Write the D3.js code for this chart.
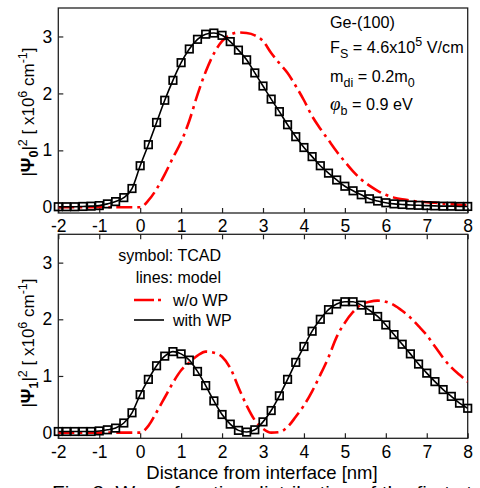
<!DOCTYPE html>
<html><head><meta charset="utf-8">
<script src="https://cdn.jsdelivr.net/npm/d3@7"></script>
<style>
html,body{margin:0;padding:0;background:#fff;}
svg{display:block;}
text{font-family:"Liberation Sans",Arial,sans-serif;fill:#000;}
</style></head>
<body>
<svg id="chart" width="480" height="488"></svg>
<script>
const xGrid = [-2,-1.8,-1.6,-1.4,-1.2,-1.0,-0.8,-0.6,-0.4,-0.2,0,0.2,0.4,0.6,0.8,1.0,1.2,1.4,1.6,1.8,2.0,2.2,2.4,2.6,2.8,3.0,3.2,3.4,3.6,3.8,4.0,4.2,4.4,4.6,4.8,5.0,5.2,5.4,5.6,5.8,6.0,6.2,6.4,6.6,6.8,7.0,7.2,7.4,7.6,7.8,8.0];

// |Psi0|^2 : TCAD symbols / model with WP
const psi0WithWP = [0.01,0.01,0.01,0.015,0.02,0.03,0.06,0.10,0.17,0.33,0.73,1.10,1.49,1.88,2.23,2.54,2.78,2.95,3.04,3.06,3.02,2.91,2.76,2.59,2.36,2.13,1.90,1.68,1.45,1.24,1.05,0.89,0.73,0.60,0.48,0.37,0.29,0.22,0.15,0.11,0.08,0.06,0.05,0.04,0.035,0.03,0.025,0.02,0.02,0.015,0.015];
// |Psi0|^2 : model w/o WP
const psi0NoWP = [0,0,0,0,0,0,0,0,0,0,0,0.12,0.32,0.58,0.87,1.15,1.52,1.98,2.38,2.70,2.92,3.03,3.07,3.06,3.02,2.92,2.71,2.53,2.36,2.13,1.88,1.60,1.38,1.18,0.98,0.80,0.63,0.49,0.38,0.29,0.22,0.17,0.14,0.12,0.10,0.09,0.08,0.065,0.055,0.045,0.04];

// |Psi1|^2 : TCAD symbols / model with WP
const psi1WithWP = [0.02,0.02,0.02,0.02,0.02,0.03,0.05,0.08,0.17,0.35,0.67,0.94,1.18,1.35,1.43,1.39,1.28,1.08,0.83,0.56,0.32,0.15,0.04,0.01,0.05,0.19,0.39,0.65,0.94,1.24,1.52,1.79,2.00,2.17,2.27,2.31,2.31,2.25,2.16,2.05,1.90,1.73,1.56,1.39,1.21,1.05,0.90,0.76,0.64,0.52,0.43];
// |Psi1|^2 : model w/o WP
const psi1NoWP = [0,0,0,0,0,0,0,0,0,0,0,0.12,0.36,0.62,0.88,1.10,1.24,1.36,1.43,1.41,1.34,1.14,0.80,0.48,0.22,0.07,0.00,0.01,0.10,0.28,0.48,0.73,1.02,1.33,1.69,1.94,2.13,2.26,2.31,2.33,2.31,2.25,2.15,2.03,1.88,1.72,1.52,1.32,1.15,1.02,0.90];

const xTicks = [-2,-1,0,1,2,3,4,5,6,7,8];
const yTicks = [0,1,2,3];
const legendLabels = ["symbol: TCAD","lines: model","w/o WP","with WP"];
const xTitle = "Distance from interface [nm]";
const caption = "Fig. 3. Wave function distribution of the first st";

const svg = d3.select("#chart");
const x = d3.scaleLinear().domain([-2,8]).range([58.3,467.7]);
const panels = [
  {top:8, bottom:213, withWP:psi0WithWP, noWP:psi0NoWP, sub:"0", labelY:112},
  {top:234.3, bottom:438.3, withWP:psi1WithWP, noWP:psi1NoWP, sub:"1", labelY:343}
];
const RED = "#ff0000";
const fmt = d => String(d);

panels.forEach((p,i) => {
  const y = d3.scaleLinear().domain([-0.1,3.5]).range([p.bottom,p.top]);
  const g = svg.append("g");
  const clipId = "clip"+i;
  svg.append("clipPath").attr("id",clipId).append("rect")
    .attr("x",x.range()[0]).attr("y",p.top).attr("width",x.range()[1]-x.range()[0]).attr("height",p.bottom-p.top);

  g.append("rect").attr("x",x.range()[0]).attr("y",p.top)
    .attr("width",x.range()[1]-x.range()[0]).attr("height",p.bottom-p.top)
    .attr("fill","none").attr("stroke","#222").attr("stroke-width",1.3);

  const xb = g.append("g").attr("transform",`translate(0,${p.bottom})`)
    .call(d3.axisBottom(x).tickValues(xTicks).tickSizeInner(-5).tickSizeOuter(0).tickPadding(7).tickFormat(fmt));
  xb.select(".domain").remove();
  xb.selectAll("line").attr("stroke","#222").attr("stroke-width",1.2);
  xb.selectAll("text").attr("font-size",17.5).attr("font-family","Liberation Sans, Arial, sans-serif");

  if (i===1) {
    const xt = g.append("g").attr("transform",`translate(0,${p.top})`)
      .call(d3.axisTop(x).tickValues(xTicks).tickSizeInner(-5).tickSizeOuter(0).tickFormat(""));
    xt.select(".domain").remove();
    xt.selectAll("line").attr("stroke","#222").attr("stroke-width",1.2);
  }

  const yl = g.append("g").attr("transform",`translate(${x.range()[0]},0)`)
    .call(d3.axisLeft(y).tickValues(yTicks).tickSizeInner(-5).tickSizeOuter(0).tickPadding(6).tickFormat(fmt));
  yl.select(".domain").remove();
  yl.selectAll("line").attr("stroke","#222").attr("stroke-width",1.2);
  yl.selectAll("text").attr("font-size",17.5).attr("font-family","Liberation Sans, Arial, sans-serif");

  const plot = g.append("g").attr("clip-path",`url(#${clipId})`);
  const line = d3.line().x((d,k)=>x(xGrid[k])).y(d=>y(d)).curve(d3.curveMonotoneX);

  plot.append("path").datum(p.noWP).attr("d",line)
    .attr("fill","none").attr("stroke",RED).attr("stroke-width",2.6)
    .attr("stroke-dasharray","16,5,3,5");

  plot.append("path").datum(p.withWP).attr("d",line)
    .attr("fill","none").attr("stroke","#000").attr("stroke-width",1.6);

  const s = 7.5;
  g.append("g").selectAll("rect").data(p.withWP).join("rect")
    .attr("x",(d,k)=>x(xGrid[k])-s/2).attr("y",d=>y(d)-s/2)
    .attr("width",s).attr("height",s)
    .attr("fill","none").attr("stroke","#000").attr("stroke-width",1.7);

  const t = svg.append("text").attr("transform",`translate(34,${p.labelY}) rotate(-90)`)
    .attr("text-anchor","middle").attr("font-size",17);
  t.append("tspan").text("|");
  t.append("tspan").attr("font-weight","bold").attr("font-size",18).text("Ψ");
  t.append("tspan").attr("font-weight","bold").attr("font-size",12.5).attr("dy",4).text(p.sub);
  t.append("tspan").attr("dy",-4).text("|");
  t.append("tspan").attr("font-size",12.5).attr("dy",-7).text("2");
  t.append("tspan").attr("dy",7).text(" [ x10");
  t.append("tspan").attr("font-size",12.5).attr("dy",-7).text("6");
  t.append("tspan").attr("dy",7).text(" cm");
  t.append("tspan").attr("font-size",12.5).attr("dy",-7).text("-1");
  t.append("tspan").attr("dy",7).text("]");
});

const ann = svg.append("g").attr("font-size",16.2);
ann.append("text").attr("x",330).attr("y",28).text("Ge-(100)");
const f = ann.append("text").attr("x",330).attr("y",53);
f.append("tspan").text("F");
f.append("tspan").attr("font-size",12.5).attr("dy",5).text("S");
f.append("tspan").attr("dy",-5).text(" = 4.6x10");
f.append("tspan").attr("font-size",12.5).attr("dy",-7).text("5");
f.append("tspan").attr("dy",7).text(" V/cm");
const m = ann.append("text").attr("x",330).attr("y",82);
m.append("tspan").text("m");
m.append("tspan").attr("font-size",12.5).attr("dy",5).text("di");
m.append("tspan").attr("dy",-5).text(" = 0.2m");
m.append("tspan").attr("font-size",12.5).attr("dy",5).text("0");
const ph = ann.append("text").attr("x",330).attr("y",110);
ph.append("tspan").attr("font-style","italic").attr("font-family","Liberation Serif, serif").attr("font-size",19).text("φ");
ph.append("tspan").attr("font-size",12.5).attr("dy",5).text("b");
ph.append("tspan").attr("dy",-5).text(" = 0.9 eV");

const lg = svg.append("g").attr("font-size",16);
lg.append("text").attr("x",221).attr("y",261).attr("text-anchor","end").text(legendLabels[0]);
lg.append("text").attr("x",221).attr("y",283).attr("text-anchor","end").text(legendLabels[1]);
lg.append("line").attr("x1",134).attr("x2",168).attr("y1",300).attr("y2",300)
  .attr("stroke",RED).attr("stroke-width",2.6).attr("stroke-dasharray","20,4,3,20");
lg.append("text").attr("x",173).attr("y",305.5).text(legendLabels[2]);
lg.append("line").attr("x1",134).attr("x2",164).attr("y1",320).attr("y2",320)
  .attr("stroke","#000").attr("stroke-width",1.6);
lg.append("text").attr("x",173).attr("y",325.5).text(legendLabels[3]);

svg.append("text").attr("x",262).attr("y",479).attr("text-anchor","middle").attr("font-size",18.5).text(xTitle);

svg.append("text").attr("x",52).attr("y",499).attr("font-size",19)
  .attr("font-family","Liberation Serif, Times New Roman, serif")
  .attr("textLength",420).attr("lengthAdjust","spacingAndGlyphs").text(caption);
</script>
</body></html>
